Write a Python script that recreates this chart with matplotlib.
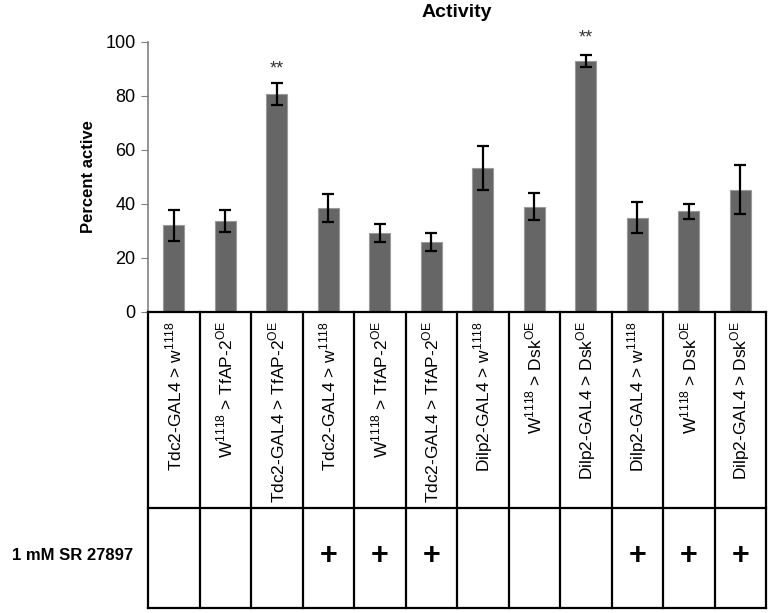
import numpy as np
import matplotlib
matplotlib.use('Agg')
import matplotlib.pyplot as plt

# data
labels = [
    r'Tdc2-GAL4 > w$^{1118}$',
    r'W$^{1118}$ > TfAP-2$^{\mathrm{OE}}$',
    r'Tdc2-GAL4 > TfAP-2$^{\mathrm{OE}}$',
    r'Tdc2-GAL4 > w$^{1118}$',
    r'W$^{1118}$ > TfAP-2$^{\mathrm{OE}}$',
    r'Tdc2-GAL4 > TfAP-2$^{\mathrm{OE}}$',
    r'Dilp2-GAL4 > w$^{1118}$',
    r'W$^{1118}$ > Dsk$^{\mathrm{OE}}$',
    r'Dilp2-GAL4 > Dsk$^{\mathrm{OE}}$',
    r'Dilp2-GAL4 > w$^{1118}$',
    r'W$^{1118}$ > Dsk$^{\mathrm{OE}}$',
    r'Dilp2-GAL4 > Dsk$^{\mathrm{OE}}$',
]
values = [32.1, 33.8, 80.7, 38.5, 29.3, 25.8, 53.3, 39.0, 92.9, 35.0, 37.3, 45.3]
errors = [5.7, 4.0, 4.0, 5.1, 3.3, 3.3, 8.0, 5.0, 2.2, 5.6, 2.8, 9.0]
treated = [False, False, False, True, True, True, False, False, False, True, True, True]
stars = {2: 90, 8: 101.5}

plt.rcParams['font.family'] = ['Liberation Sans', 'DejaVu Sans']
plt.rcParams['mathtext.fontset'] = 'custom'
plt.rcParams['mathtext.rm'] = 'Liberation Sans'

W, H = 768, 613
fig = plt.figure(figsize=(W / 100, H / 100), dpi=100)
x = np.arange(len(values))

# bar chart
ax = fig.add_axes([148 / W, (H - 312) / H, 618 / W, 270 / H])
ax.bar(x, values, width=0.4, color='#666666', edgecolor='#9a9a9a', linewidth=0.8, zorder=2)
ax.errorbar(x, values, yerr=errors, fmt='none', ecolor='black', elinewidth=1.6,
            capsize=4.5, capthick=1.6, zorder=3)
for i, y in stars.items():
    ax.text(i, y, '**', ha='center', va='center', fontsize=13, color='#333333')
ax.set_xlim(-0.5, len(values) - 0.5)
ax.set_ylim(0, 100)
ax.set_yticks(range(0, 101, 20))
ax.tick_params(axis='y', direction='out', length=5, color='#808080', labelsize=13, pad=4)
ax.set_xticks([])
for s in ['top', 'right', 'bottom']:
    ax.spines[s].set_visible(False)
ax.spines['left'].set_color('#808080')
ax.spines['left'].set_linewidth(1.2)
ax.set_ylabel('Percent active', fontsize=12, fontweight='bold', labelpad=7)
ax.set_title('Activity', fontsize=14, fontweight='bold', pad=18)

# table below
tab = fig.add_axes([148 / W, (H - 608) / H, 618 / W, 296 / H])
tab.set_xlim(-0.5, len(values) - 0.5)
tab.set_ylim(0, 296)
tab.axis('off')
for xv in np.arange(-0.5, len(values), 1.0):
    tab.plot([xv, xv], [0, 296], color='black', lw=1.6, clip_on=False)
for yv in [0, 100, 296]:
    tab.plot([-0.5, len(values) - 0.5], [yv, yv], color='black', lw=1.6, clip_on=False)
for i, lab in enumerate(labels):
    tab.text(i, 287, lab, rotation=90, ha='center', va='top', fontsize=12.5)
    if treated[i]:
        tab.text(i, 52, '+', ha='center', va='center', fontsize=22, fontweight='bold')
tab.text(-0.79, 52, '1 mM SR 27897', ha='right', va='center', fontsize=12, fontweight='bold')

fig.savefig('out.png', dpi=100)
